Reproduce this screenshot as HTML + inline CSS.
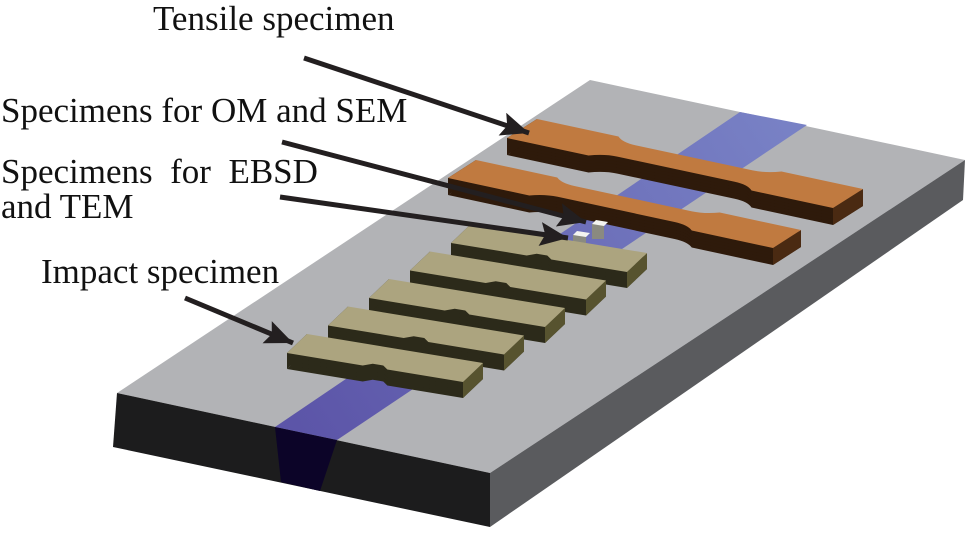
<!DOCTYPE html>
<html><head><meta charset="utf-8"><style>
html,body{margin:0;padding:0;background:#fff;}
svg{display:block;}
text{font-family:"Liberation Serif",serif;fill:#111;font-size:35px;}
</style></head><body>
<svg width="974" height="540" viewBox="0 0 974 540" xmlns="http://www.w3.org/2000/svg">
<defs>
<linearGradient id="stripe" x1="300" y1="430" x2="780" y2="118" gradientUnits="userSpaceOnUse">
<stop offset="0" stop-color="#5c55a8"/><stop offset="1" stop-color="#7881c5"/></linearGradient>
<path id="dog" d="M0,0 L0.25,0 Q0.28,0.2 0.32,0.2 L0.68,0.2 Q0.72,0.2 0.75,0 L1,0 L1,1 L0.75,1 Q0.72,0.8 0.68,0.8 L0.32,0.8 Q0.28,0.8 0.25,1 L0,1 Z"/>
<path id="imp" d="M0,0 L0.43,0 L0.47,0.15 L0.53,0.15 L0.57,0 L1,0 L1,1 L0,1 Z"/>
<marker id="ah" markerUnits="userSpaceOnUse" markerWidth="30" markerHeight="26" refX="28" refY="12" orient="auto">
<path d="M0,0 L28,12 L0,24 L5,12 Z" fill="#231f20"/></marker>
</defs>
<!-- plate -->
<polygon points="117,393 590,80 965,160 490,473" fill="#b2b3b6"/>
<polygon points="117,393 490,473 490,527 113,447" fill="#1c1c1d"/>
<polygon points="490,473 965,160 963,200 490,527" fill="#5a5b5e"/>
<polygon points="275,427 337,440 807,125 740,112" fill="url(#stripe)"/>
<polygon points="275,427 337,440 320,491 281,482" fill="#0c0428"/>

<!-- tensile specimen 1 -->
<g fill="#2e1a0b">
<use href="#dog" transform="translate(0,17) matrix(326,70,30,-19,507,138)"/>
<use href="#dog" transform="translate(0,14) matrix(326,70,30,-19,507,138)"/>
<use href="#dog" transform="translate(0,11) matrix(326,70,30,-19,507,138)"/>
<use href="#dog" transform="translate(0,8) matrix(326,70,30,-19,507,138)"/>
<use href="#dog" transform="translate(0,5) matrix(326,70,30,-19,507,138)"/>
<use href="#dog" transform="translate(0,2) matrix(326,70,30,-19,507,138)"/>
<polygon points="507,138 537,119 537,136 507,155"/>
</g>
<polygon points="833,208 863,189 863,206 833,225" fill="#4a2a12"/>
<use href="#dog" fill="#c07a40" transform="matrix(326,70,30,-19,507,138)"/>
<!-- tensile specimen 2 -->
<g fill="#2e1a0b">
<use href="#dog" transform="translate(0,17) matrix(325,70,28,-18,448,178)"/>
<use href="#dog" transform="translate(0,14) matrix(325,70,28,-18,448,178)"/>
<use href="#dog" transform="translate(0,11) matrix(325,70,28,-18,448,178)"/>
<use href="#dog" transform="translate(0,8) matrix(325,70,28,-18,448,178)"/>
<use href="#dog" transform="translate(0,5) matrix(325,70,28,-18,448,178)"/>
<use href="#dog" transform="translate(0,2) matrix(325,70,28,-18,448,178)"/>
<polygon points="448,178 476,160 476,177 448,195"/>
</g>
<polygon points="773,248 801,230 801,247 773,265" fill="#4a2a12"/>
<use href="#dog" fill="#c07a40" transform="matrix(325,70,28,-18,448,178)"/>

<!-- small cubes -->
<rect x="592" y="224" width="12" height="15" fill="#8a8a80"/>
<polygon points="592,224 596,220 608,222 604,226" fill="#f4f4f0"/>
<rect x="573" y="235" width="13" height="14" fill="#8a8a80"/>
<polygon points="573,235 577,231 590,233 586,237" fill="#f4f4f0"/>

<!-- impact specimens -->
<g>
<g fill="#2c2a1a">
<use href="#imp" transform="translate(0,16) matrix(176,29,20,-19,451,243)"/>
<use href="#imp" transform="translate(0,12) matrix(176,29,20,-19,451,243)"/>
<use href="#imp" transform="translate(0,8) matrix(176,29,20,-19,451,243)"/>
<use href="#imp" transform="translate(0,4) matrix(176,29,20,-19,451,243)"/>
<polygon points="451,243 471,224 471,240 451,259"/></g>
<polygon points="627,272 647,253 647,269 627,288" fill="#57532f"/>
<use href="#imp" fill="#aca47f" transform="matrix(176,29,20,-19,451,243)"/>
</g>
<g>
<g fill="#2c2a1a">
<use href="#imp" transform="translate(0,16) matrix(176,29,20,-19,410,270.5)"/>
<use href="#imp" transform="translate(0,12) matrix(176,29,20,-19,410,270.5)"/>
<use href="#imp" transform="translate(0,8) matrix(176,29,20,-19,410,270.5)"/>
<use href="#imp" transform="translate(0,4) matrix(176,29,20,-19,410,270.5)"/>
<polygon points="410,270.5 430,251.5 430,267.5 410,286.5"/></g>
<polygon points="586,299.5 606,280.5 606,296.5 586,315.5" fill="#57532f"/>
<use href="#imp" fill="#aca47f" transform="matrix(176,29,20,-19,410,270.5)"/>
</g>
<g>
<g fill="#2c2a1a">
<use href="#imp" transform="translate(0,16) matrix(176,29,20,-19,369,298)"/>
<use href="#imp" transform="translate(0,12) matrix(176,29,20,-19,369,298)"/>
<use href="#imp" transform="translate(0,8) matrix(176,29,20,-19,369,298)"/>
<use href="#imp" transform="translate(0,4) matrix(176,29,20,-19,369,298)"/>
<polygon points="369,298 389,279 389,295 369,314"/></g>
<polygon points="545,327 565,308 565,324 545,343" fill="#57532f"/>
<use href="#imp" fill="#aca47f" transform="matrix(176,29,20,-19,369,298)"/>
</g>
<g>
<g fill="#2c2a1a">
<use href="#imp" transform="translate(0,16) matrix(176,29,20,-19,328,325.5)"/>
<use href="#imp" transform="translate(0,12) matrix(176,29,20,-19,328,325.5)"/>
<use href="#imp" transform="translate(0,8) matrix(176,29,20,-19,328,325.5)"/>
<use href="#imp" transform="translate(0,4) matrix(176,29,20,-19,328,325.5)"/>
<polygon points="328,325.5 348,306.5 348,322.5 328,341.5"/></g>
<polygon points="504,354.5 524,335.5 524,351.5 504,370.5" fill="#57532f"/>
<use href="#imp" fill="#aca47f" transform="matrix(176,29,20,-19,328,325.5)"/>
</g>
<g>
<g fill="#2c2a1a">
<use href="#imp" transform="translate(0,16) matrix(176,29,20,-19,287,353)"/>
<use href="#imp" transform="translate(0,12) matrix(176,29,20,-19,287,353)"/>
<use href="#imp" transform="translate(0,8) matrix(176,29,20,-19,287,353)"/>
<use href="#imp" transform="translate(0,4) matrix(176,29,20,-19,287,353)"/>
<polygon points="287,353 307,334 307,350 287,369"/></g>
<polygon points="463,382 483,363 483,379 463,398" fill="#57532f"/>
<use href="#imp" fill="#aca47f" transform="matrix(176,29,20,-19,287,353)"/>
</g>

<!-- arrows -->
<g stroke="#231f20" stroke-width="5" fill="none">
<line x1="304" y1="58" x2="529" y2="133" marker-end="url(#ah)"/>
<line x1="282" y1="142" x2="586" y2="222" marker-end="url(#ah)"/>
<line x1="280" y1="197" x2="568" y2="238" marker-end="url(#ah)"/>
<line x1="185" y1="298" x2="293" y2="343" marker-end="url(#ah)"/>
</g>

<!-- labels -->
<text x="153" y="30">Tensile specimen</text>
<text x="1" y="122">Specimens for OM and SEM</text>
<text x="1" y="183" xml:space="preserve">Specimens  for  EBSD</text>
<text x="1" y="218">and TEM</text>
<text x="41" y="283">Impact specimen</text>
</svg>
</body></html>
